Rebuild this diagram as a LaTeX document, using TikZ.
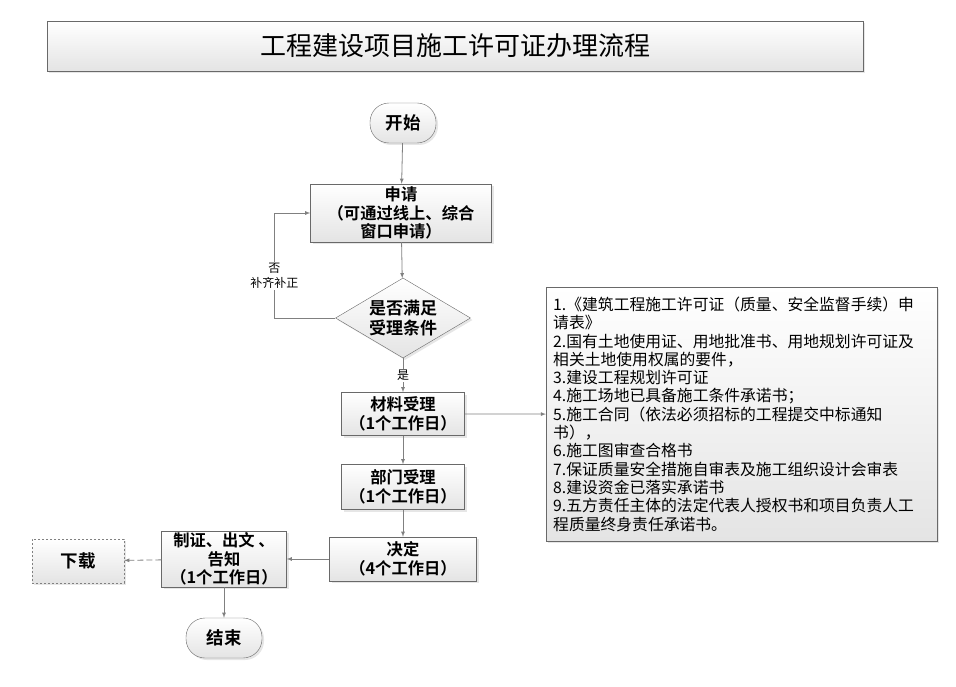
\documentclass[tikz,border=0pt]{standalone}
\usepackage{fontspec}
\setmainfont{Noto Sans CJK SC}[BoldFont={Noto Sans CJK SC Bold}]
\usetikzlibrary{shapes,arrows,positioning,calc,shadows}
\definecolor{flowline}{RGB}{128,128,128}
\definecolor{flowedge}{RGB}{105,105,105}
\definecolor{flowfill}{RGB}{228,228,228}

\begin{document}
\begin{tikzpicture}[x=1pt,y=-1pt,
    box/.style={draw=flowedge, top color=white, bottom color=flowfill,
        drop shadow={shadow xshift=2pt, shadow yshift=-2pt, opacity=0.2},
        align=center, inner sep=1pt,
        font=\bfseries\fontsize{16.3}{18.5}\selectfont},
    term/.style={box, rounded corners=19pt, minimum height=40pt,
        font=\bfseries\fontsize{17.5}{20}\selectfont},
    line/.style={->, >=latex, draw=flowline, line width=0.8pt},
    lbl/.style={fill=white, inner sep=1pt, align=center,
        font=\fontsize{12}{15}\selectfont}]
    \useasboundingbox (0,0) rectangle (956,687);

    % title
    \node[box, minimum width=816pt, minimum height=50pt,
        font=\fontsize{26}{30}\selectfont] (title) at (455,46) {工程建设项目施工许可证办理流程};

    % main flow
    \node[term, minimum width=66pt] (start) at (403,123) {开始};
    \node[box, minimum width=181pt, minimum height=58pt] (apply) at (401,213)
        {申请\\（可通过线上、综合\\窗口申请）};
    \node[box, diamond, aspect=1.69, inner sep=0pt, minimum width=135pt,
        minimum height=80pt, drop shadow={opacity=0},
        font=\bfseries\fontsize{17}{20}\selectfont] (check) at (403,318) {是否满足\\受理条件};
    \node[box, minimum width=123pt, minimum height=43pt] (material) at (403,414)
        {材料受理\\（1个工作日）};
    \node[box, minimum width=123pt, minimum height=45pt] (dept) at (403,487)
        {部门受理\\（1个工作日）};
    \node[box, minimum width=147pt, minimum height=44pt] (decide) at (403,559)
        {决定\\（4个工作日）};
    \node[box, minimum width=125pt, minimum height=56pt] (issue) at (224,559)
        {制证、出文 、\\告知\\（1个工作日）};
    \node[box, draw=flowline, dash pattern=on 2pt off 2pt, drop shadow={opacity=0},
        minimum width=92pt, minimum height=44pt,
        font=\bfseries\fontsize{17.5}{20}\selectfont] (download) at (78,561) {下载};
    \node[term, minimum width=76pt] (end) at (224,638) {结束};

    % materials list
    \node[box, anchor=north west, text width=377pt, inner xsep=7pt,
        minimum height=254pt, align=left,
        font=\fontsize{15.8}{18.3}\selectfont] (info) at (546,287)
        {1.《建筑工程施工许可证（质量、安全监督手续）申\\
         请表》\\
         2.国有土地使用证、用地批准书、用地规划许可证及\\
         相关土地使用权属的要件，\\
         3.建设工程规划许可证\\
         4.施工场地已具备施工条件承诺书；\\
         5.施工合同（依法必须招标的工程提交中标通知\\
         书），\\
         6.施工图审查合格书\\
         7.保证质量安全措施自审表及施工组织设计会审表\\
         8.建设资金已落实承诺书\\
         9.五方责任主体的法定代表人授权书和项目负责人工\\
         程质量终身责任承诺书。};

    % connectors
    \draw[line] (start) -- (apply);
    \draw[line] (apply) -- (check);
    \draw[line] (check) -- node[lbl] {是} (material);
    \draw[line] (check.west) -- ++(-61,0) |- node[lbl, pos=0.2] {否\\补齐补正} (apply.west);
    \draw[line] (material) -- (info);
    \draw[line] (material) -- (dept);
    \draw[line] (dept) -- (decide);
    \draw[line] (decide) -- (issue);
    \draw[line, dash pattern=on 6pt off 3pt] (issue) -- (download);
    \draw[line] (issue) -- (end);
\end{tikzpicture}
\end{document}
